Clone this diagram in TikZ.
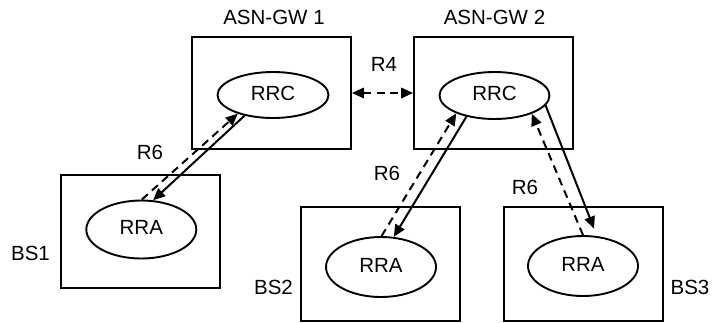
\documentclass[tikz,border=0pt]{standalone}
\usepackage{fontspec}
\setmainfont{Liberation Sans}
\usetikzlibrary{shapes.geometric, arrows.meta}

\begin{document}
\begin{tikzpicture}[x=1pt, y=-1pt,
  >={Triangle[length=12pt,width=10.5pt]},
  every node/.style={font=\fontsize{20.5}{24}\selectfont},
  unit/.style={draw, line width=1.9pt, minimum width=159pt, minimum height=113pt, inner sep=0pt},
  func/.style={draw, ellipse, line width=1.9pt, inner sep=0pt, text depth=4pt},
  lbl/.style={inner sep=0pt},
  link/.style={line width=2pt, ->},
  sig/.style={line width=2pt, dash pattern=on 8pt off 5.5pt, ->},
]
\useasboundingbox (0,0) rectangle (712,322);

% gateway and base station boxes
\node[unit, minimum height=112pt] (gw1) at (271.5,93) {};
\node[unit, minimum height=112pt] (gw2) at (493.5,93) {};
\node[unit] (bs1) at (140.5,231.5) {};
\node[unit, minimum height=114pt] (bs2) at (380.5,264) {};
\node[unit, minimum height=114pt] (bs3) at (583.5,264) {};

% functional entities
\node[func, minimum width=111pt, minimum height=46pt] (rrc1) at (273,95) {RRC};
\node[func, minimum width=110pt, minimum height=47pt] (rrc2) at (494.5,95.5) {RRC};
\node[func, minimum width=110pt, minimum height=58pt] (rra1) at (141.3,229.5) {RRA};
\node[func, minimum width=110pt, minimum height=60pt] (rra2) at (381,267) {RRA};
\node[func, minimum width=110pt, minimum height=60pt] (rra3) at (583,266) {RRA};

% labels
\node[lbl] (lgw1) at (274,17) {ASN-GW 1};
\node[lbl] (lgw2) at (494.5,17) {ASN-GW 2};
\node[lbl] (lbs1) at (30.5,253) {BS1};
\node[lbl] (lbs2) at (273.5,287) {BS2};
\node[lbl] (lbs3) at (690,287) {BS3};
\node[lbl] (lr4) at (384,64) {R4};
\node[lbl] (lr6a) at (150,152) {R6};
\node[lbl] (lr6b) at (387,173) {R6};
\node[lbl] (lr6c) at (525,187) {R6};

% R6 reference points
\draw[link] (rrc1.216) -- (rra1.68);
\draw[sig] (rra1.89) -- (rrc1.208);
\draw[link] (rrc2.217) -- (rra2.67);
\draw[sig] (rra2.89) -- (rrc2.205);
\draw[link, shorten >=8pt] (rrc2.349) -- (rra3.65);
\draw[sig] (rra3.90) -- (rrc2.334);

% R4 reference point
\draw[sig, <->] (gw1.east) -- (gw2.west);
\end{tikzpicture}
\end{document}
